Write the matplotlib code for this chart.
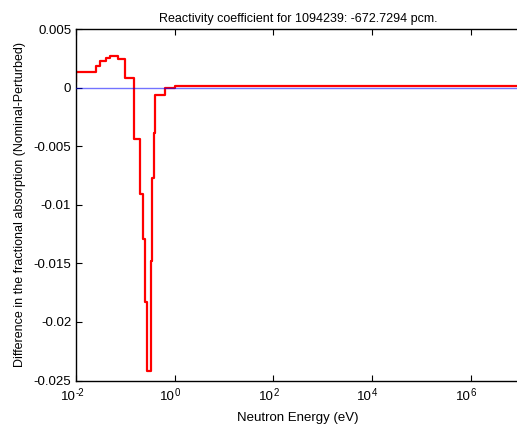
import numpy as np
import matplotlib
matplotlib.use("Agg")
import matplotlib.pyplot as plt
from matplotlib.ticker import FixedLocator, FixedFormatter, NullLocator

plt.rcParams['font.family'] = ['Liberation Sans', 'DejaVu Sans']

# Group energy boundaries (eV) and stepwise differences
edges = [1e-3, 0.01, 0.025, 0.03, 0.04, 0.05, 0.07, 0.1, 0.15, 0.2, 0.225, 0.25,
         0.275, 0.325, 0.35, 0.375, 0.4, 0.625, 1.0, 2e7]
values = [0.0005, 0.0013, 0.0018, 0.0023, 0.0025, 0.0027, 0.0024, 0.0008, -0.0044,
          -0.0091, -0.0129, -0.0183, -0.0242, -0.0148, -0.0077, -0.0039, -0.0006,
          -0.00005, 0.00015]
xticks = [1e-2, 1e0, 1e2, 1e4, 1e6]
xtick_exps = ['-2', '0', '2', '4', '6']
yticks = [0.005, 0, -0.005, -0.01, -0.015, -0.02, -0.025]
ytick_labels = ['0.005', '0', '-0.005', '-0.01', '-0.015', '-0.02', '-0.025']
title = 'Reactivity coefficient for 1094239: -672.7294 pcm.'

fig = plt.figure(figsize=(5.17, 4.26), dpi=100)
ax = fig.add_axes([76/517, 45.5/426, 444/517, 351.5/426])

ax.step(edges, values + [values[-1]], where='post', color='red', lw=1.6, zorder=2)
ax.axhline(0, color='blue', lw=1.0, alpha=0.55, zorder=3)

ax.set_xscale('log')
ax.set_xlim(1e-2, 1e7)
ax.set_ylim(-0.025, 0.005)
ax.xaxis.set_major_locator(FixedLocator(xticks))
ax.xaxis.set_minor_locator(NullLocator())
ax.xaxis.set_major_formatter(FixedFormatter(['' for _ in xticks]))
ax.set_yticks(yticks)
ax.set_yticklabels(ytick_labels)

ax.tick_params(direction='in', top=True, right=False, labelsize=9.5, length=4, width=0.8)
for s in ax.spines.values():
    s.set_linewidth(1.0)

# x tick labels: "10" with a raised exponent using a plain hyphen
trans = ax.get_xaxis_transform()
for xv, e in zip(xticks, xtick_exps):
    ax.text(xv, -0.031, '10', transform=trans, ha='right', va='top', fontsize=9.5,
            clip_on=False)
    ax.text(xv, -0.021, e, transform=trans, ha='left', va='top', fontsize=7,
            clip_on=False)

ax.set_xlabel('Neutron Energy (eV)', fontsize=9.5, labelpad=19)
ax.set_ylabel('Difference in the fractional absorption (Nominal-Perturbed)', fontsize=9, labelpad=5)
ax.set_title(title, fontsize=9, pad=5)

fig.savefig('out.png', dpi=100)
